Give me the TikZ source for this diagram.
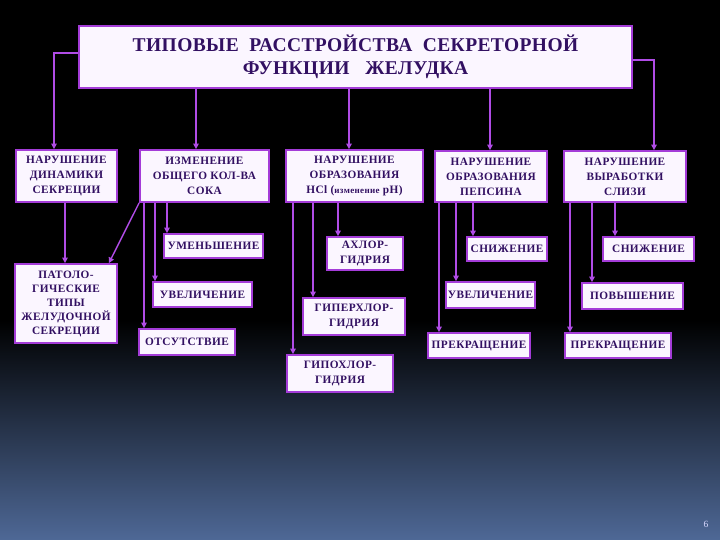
\documentclass[tikz,border=0pt]{standalone}
\usepackage{fontspec}
\setmainfont{Liberation Serif}
\newfontfamily\boxfont[LetterSpace=4]{Liberation Serif}
\newfontfamily\titlefont[LetterSpace=2]{Liberation Serif}
\usetikzlibrary{arrows.meta}
\definecolor{txt}{HTML}{321062}
\definecolor{brd}{HTML}{A43CD8}
\definecolor{fillc}{HTML}{FBF6FF}
\definecolor{arrc}{HTML}{B04CE6}
\definecolor{bgb}{HTML}{4E6896}
\tikzset{
  box/.style={draw=brd, line width=1.8pt, fill=fillc, text=txt, align=center,
    inner sep=0.5pt, font=\boxfont\bfseries\fontsize{11.3}{15}\selectfont},
  arr/.style={draw=arrc, line width=1.4pt, -{Triangle[length=5.5pt,width=5.5pt]}},
}
\begin{document}
\begin{tikzpicture}[x=1pt,y=-1pt]
\fill[black] (0,0) rectangle (720,540);
\shade[top color=black, bottom color=bgb] (0,320) rectangle (720,540);
\useasboundingbox (0,0) rectangle (720,540);

\node[box, line width=2.6pt, minimum width=553pt, minimum height=62pt,
  font=\titlefont\bfseries\fontsize{19.5}{23}\selectfont] (title) at (355.5,57)
  {ТИПОВЫЕ\ \ РАССТРОЙСТВА\ \ СЕКРЕТОРНОЙ\\ФУНКЦИИ\ \ \ ЖЕЛУДКА};

\node[box, minimum width=101pt, minimum height=52pt] (b1) at (66.5,176) {НАРУШЕНИЕ\\ДИНАМИКИ\\СЕКРЕЦИИ};
\node[box, minimum width=129pt, minimum height=52pt] (b2) at (204.5,176) {ИЗМЕНЕНИЕ\\ОБЩЕГО КОЛ-ВА\\СОКА};
\node[box, minimum width=137pt, minimum height=52pt] (b3) at (354.5,176) {НАРУШЕНИЕ\\ОБРАЗОВАНИЯ\\HCl ({\fontsize{9}{10}\selectfont изменение} pH)};
\node[box, minimum width=112pt, minimum height=51pt] (b4) at (491,176.5) {НАРУШЕНИЕ\\ОБРАЗОВАНИЯ\\ПЕПСИНА};
\node[box, minimum width=122pt, minimum height=51pt] (b5) at (625,176.5) {НАРУШЕНИЕ\\ВЫРАБОТКИ\\СЛИЗИ};

\node[box, minimum width=102pt, minimum height=79pt, font=\boxfont\bfseries\fontsize{11.3}{14}\selectfont] (pat) at (66,303.5) {ПАТОЛО-\\ГИЧЕСКИЕ\\ТИПЫ\\ЖЕЛУДОЧНОЙ\\СЕКРЕЦИИ};
\node[box, minimum width=99pt, minimum height=24pt] (umen) at (213.5,246) {УМЕНЬШЕНИЕ};
\node[box, minimum width=99pt, minimum height=25pt] (uv2) at (202.5,294.5) {УВЕЛИЧЕНИЕ};
\node[box, minimum width=96pt, minimum height=26pt] (ots) at (187,342) {ОТСУТСТВИЕ};

\node[box, minimum width=76pt, minimum height=33pt] (akhl) at (365,253.5) {АХЛОР-\\ГИДРИЯ};
\node[box, minimum width=102pt, minimum height=37pt] (giper) at (354,316.5) {ГИПЕРХЛОР-\\ГИДРИЯ};
\node[box, minimum width=106pt, minimum height=37pt] (gipo) at (340,373.5) {ГИПОХЛОР-\\ГИДРИЯ};

\node[box, minimum width=80pt, minimum height=24pt] (sn4) at (507,249) {СНИЖЕНИЕ};
\node[box, minimum width=89pt, minimum height=26pt] (uv4) at (490.5,295) {УВЕЛИЧЕНИЕ};
\node[box, minimum width=102pt, minimum height=25pt] (pr4) at (479,345.5) {ПРЕКРАЩЕНИЕ};

\node[box, minimum width=91pt, minimum height=24pt] (sn5) at (648.5,249) {СНИЖЕНИЕ};
\node[box, minimum width=101pt, minimum height=26pt] (pov) at (632.5,296) {ПОВЫШЕНИЕ};
\node[box, minimum width=106pt, minimum height=25pt] (pr5) at (618,345.5) {ПРЕКРАЩЕНИЕ};

% title connectors
\draw[arr] ([yshift=4pt]title.west) -| (b1.north -| 54,0);
\draw[arr] ([yshift=-3pt]title.east) -| (b5.north -| 654,0);
\draw[arr] (title.south -| 196,0) -- (b2.north -| 196,0);
\draw[arr] (title.south -| 349,0) -- (b3.north -| 349,0);
\draw[arr] (title.south -| 490,0) -- (b4.north -| 490,0);

% column 1
\draw[arr] (b1.south -| 65,0) -- (pat.north -| 65,0);
% column 2
\draw[arr] (b2.south west) -- ([xshift=-9pt]pat.north east);
\draw[arr] (b2.south -| 144,0) -- (ots.north -| 144,0);
\draw[arr] (b2.south -| 155,0) -- (uv2.north -| 155,0);
\draw[arr] (b2.south -| 167,0) -- (umen.north -| 167,0);
% column 3
\draw[arr] (b3.south -| 293,0) -- (gipo.north -| 293,0);
\draw[arr] (b3.south -| 313,0) -- (giper.north -| 313,0);
\draw[arr] (b3.south -| 338,0) -- (akhl.north -| 338,0);
% column 4
\draw[arr] (b4.south -| 439,0) -- (pr4.north -| 439,0);
\draw[arr] (b4.south -| 456,0) -- (uv4.north -| 456,0);
\draw[arr] (b4.south -| 473,0) -- (sn4.north -| 473,0);
% column 5
\draw[arr] (b5.south -| 570,0) -- (pr5.north -| 570,0);
\draw[arr] (b5.south -| 592,0) -- (pov.north -| 592,0);
\draw[arr] (b5.south -| 615,0) -- (sn5.north -| 615,0);

\node[text=white!85!blue, font=\fontsize{9.5}{10}\selectfont] (pg) at (706,524) {6};
\end{tikzpicture}
\end{document}
